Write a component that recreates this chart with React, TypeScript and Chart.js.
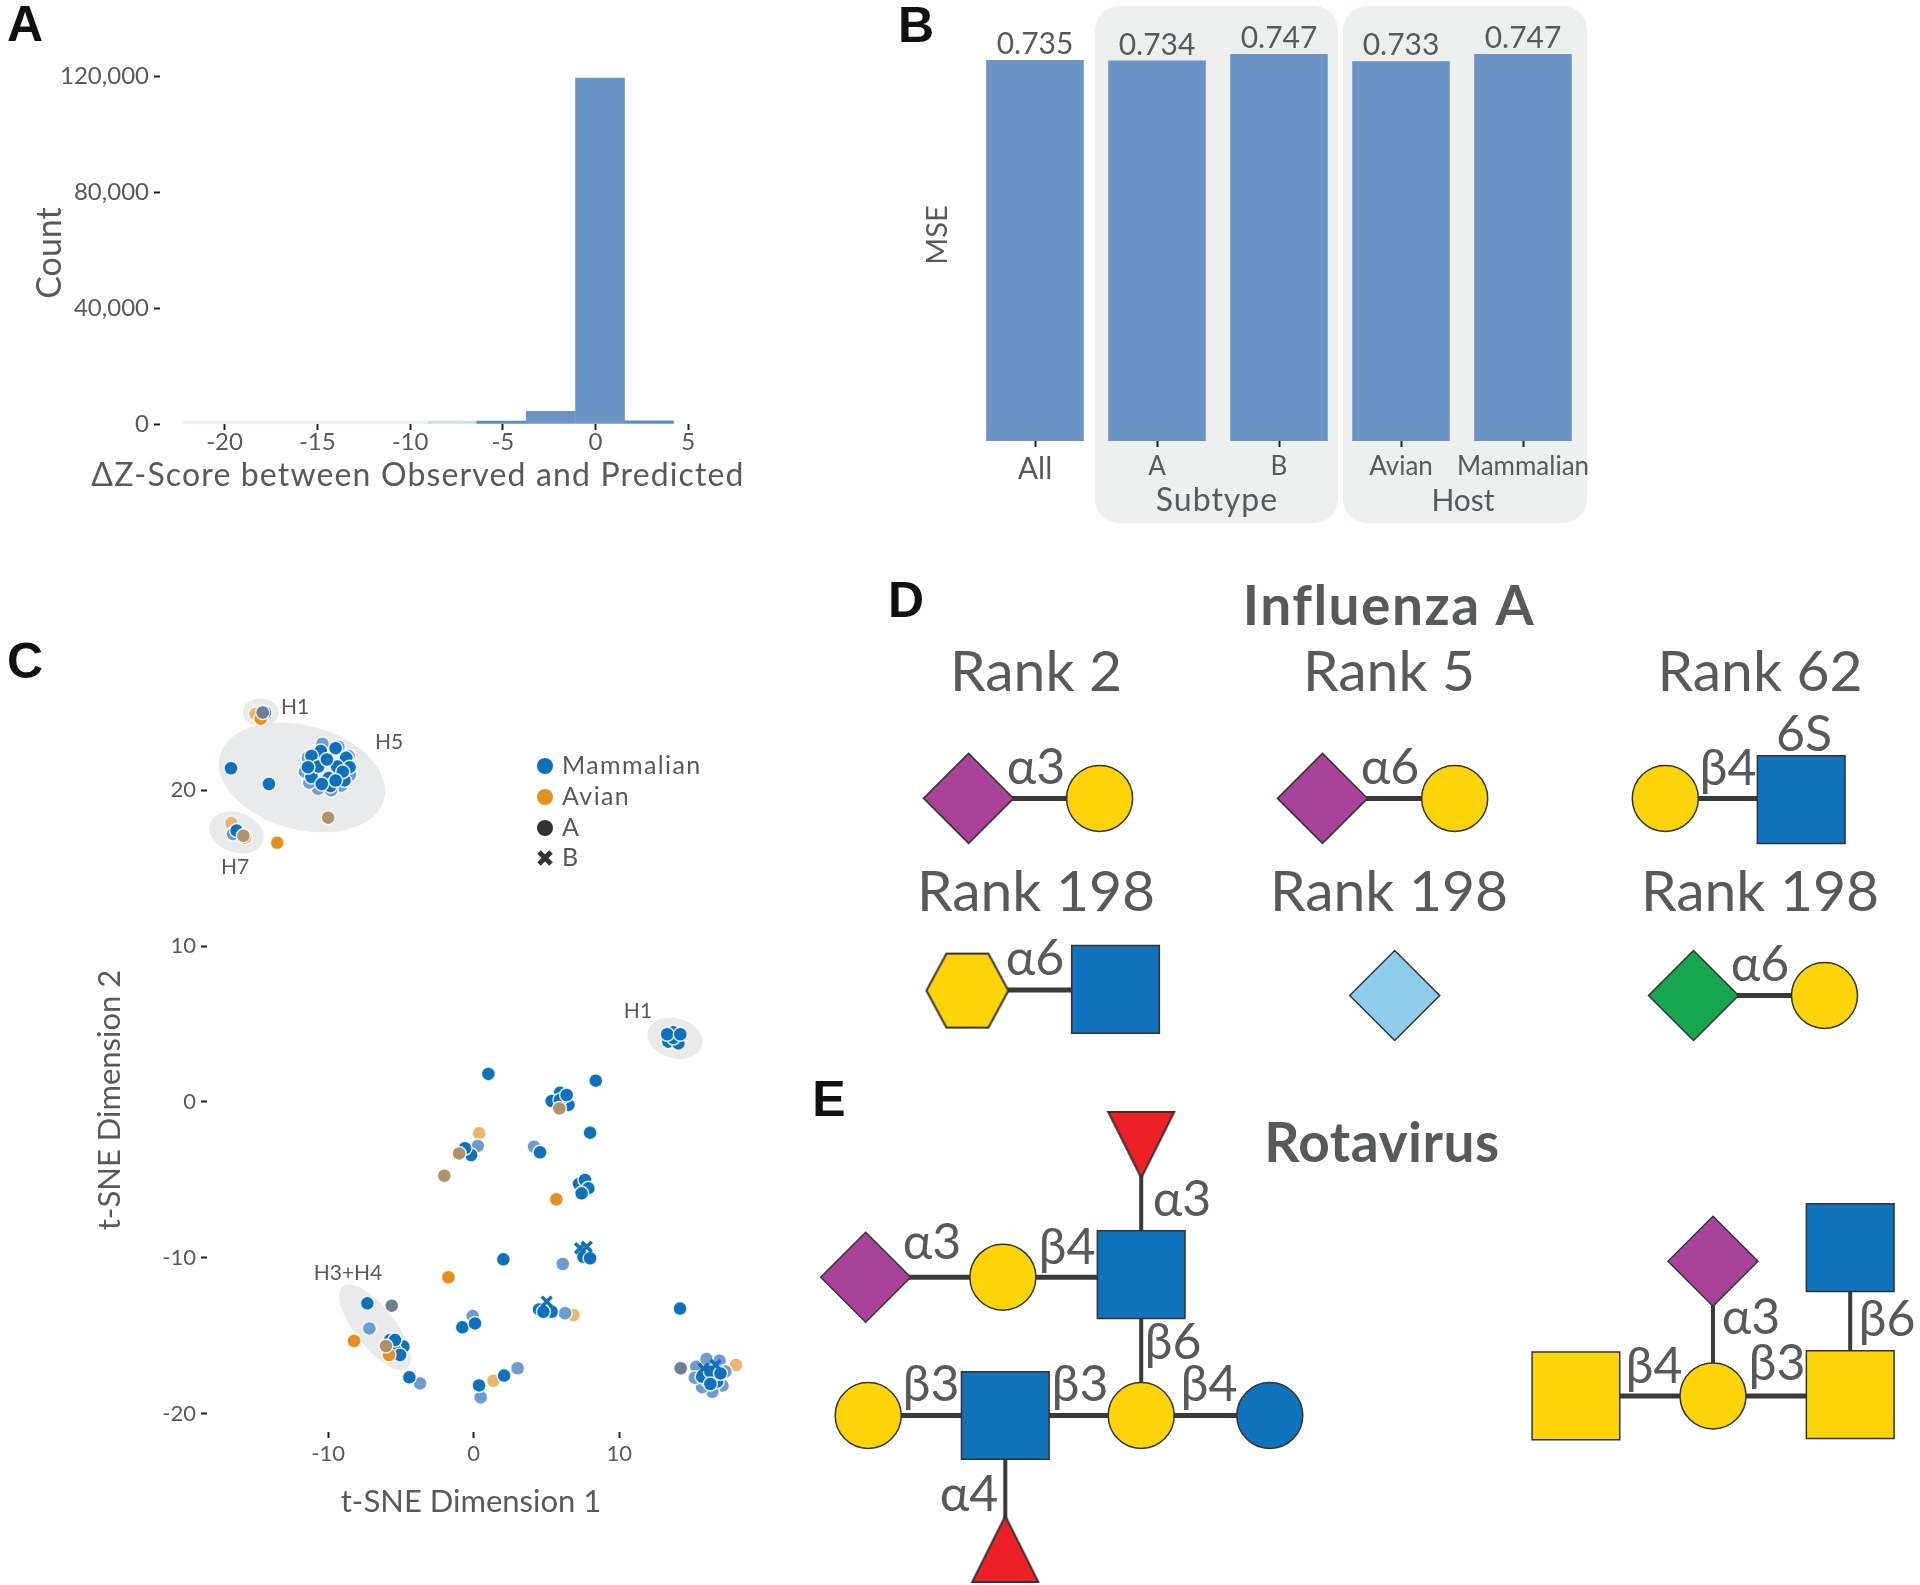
import React, { useEffect, useRef } from "react";
import { Chart, registerables } from "chart.js";

Chart.register(...registerables);

// ---------- Panel A ----------
const histBinCentres = [-20.91, -18.27, -15.63, -12.99, -10.35, -7.71, -5.07, -2.42, 0.24, 2.88];
const histCounts = [150, 150, 150, 150, 150, 400, 1000, 4400, 119300, 1100];
const histColours = ["#e6eef8", "#e6eef8", "#e6eef8", "#e6eef8", "#e6eef8", "#cddcf0", "#5f8cc6", "#6b93c6", "#6b93c6", "#5f8cc6"];

// ---------- Panel B ----------
const mseCategories = ["All", "A", "B", "Avian", "Mammalian"];
const mseValues = [0.735, 0.734, 0.747, 0.733, 0.747];

// ---------- Panel C (t-SNE dimension 1, dimension 2) ----------
type P = [number, number];
const mammalian: P[] = [
  [1.01, 1.8], [8.39, 1.37], [5.93, 0.6], [5.36, 0.06], [6.51, -0.19], [5.93, 0.13], [6.39, 0.45], [8.0, -1.97],
  [-0.18, -3.4], [-0.6, -2.97], [4.56, -3.23], [7.24, -5.26], [7.65, -5.0], [7.88, -5.54], [7.42, -5.86],
  [2.04, -10.1], [7.54, -9.93], [8.0, -10.03],
  [-7.31, -12.92], [-5.25, -15.38], [-5.75, -15.28], [-4.83, -15.7], [-5.41, -15.92], [-5.06, -16.24], [-5.41, -15.28],
  [-4.42, -17.67], [-0.78, -14.46], [0.09, -14.21], [2.09, -17.56], [0.37, -18.19],
  [4.49, -13.31], [5.36, -13.46], [4.79, -13.46], [14.18, -13.26],
  [16.04, -17.84], [16.73, -17.95], [15.7, -17.63], [16.27, -17.31], [16.96, -17.42], [16.27, -18.1],
  [13.72, 4.47], [13.38, 3.87], [14.07, 3.76], [13.72, 4.1], [13.3, 4.35], [14.2, 4.35],
  [-16.68, 21.42], [-14.07, 20.41],
  [-10.51, 22.53], [-9.49, 22.71], [-8.76, 22.09], [-8.53, 21.49], [-11.15, 22.21], [-11.15, 20.86], [-9.97, 20.79],
  [-8.88, 20.64], [-9.85, 20.28], [-9.38, 21.53], [-10.68, 21.53], [-11.39, 21.49], [-10.09, 21.98], [-9.0, 21.2],
  [-9.49, 20.63], [-10.44, 20.41],
  [-16.3, 17.42], [-14.35, 25.0],
];
const mammalianLight: P[] = [
  [0.28, -2.82], [4.15, -2.87], [6.12, -10.4], [-3.69, -18.06], [-7.17, -14.53], [-0.07, -13.74],
  [3.02, -17.09], [0.48, -18.96], [6.28, -13.56], [-16.54, 17.2],
  [-11.4, 22.1], [-10.4, 23.0], [-9.3, 22.8], [-8.6, 22.2], [-8.5, 21.0], [-9.1, 20.3], [-9.8, 20.0], [-10.7, 20.1],
  [-11.3, 20.5], [-11.6, 21.2],
  [15.3, -17.0], [16.0, -16.5], [16.9, -16.6], [17.3, -17.3], [17.1, -18.2], [16.4, -18.6], [15.7, -18.3], [15.2, -17.7],
];
const mammalianB: P[] = [
  [7.77, -9.29], [7.31, -9.39], [5.02, -12.81], [15.8, -17.1], [16.62, -16.88],
];
const avian: P[] = [
  [5.68, -6.25], [-1.74, -11.25], [-8.22, -15.34], [-5.82, -16.24], [-13.5, 16.64], [-15.71, 16.98], [-14.64, 24.6],
];
const avianLight: P[] = [
  [0.37, -2.01], [1.35, -17.89], [6.85, -13.67], [18.03, -16.88], [-16.66, 17.9], [-15.0, 24.9],
];
const mixedBrown: P[] = [
  [5.89, -0.41], [-1.0, -3.3], [-2.02, -4.73], [-6.03, -15.66], [-10.0, 18.25], [-15.83, 17.09],
];
const mixedSlate: P[] = [
  [-5.63, -13.07], [14.23, -17.09], [-14.5, 25.0],
];
// centre x, centre y, semi-axes in px, rotation in degrees
const clusterEllipses: [number, number, number, number, number][] = [
  [-11.8, 20.83, 85, 52, 15],
  [-14.64, 25.0, 18, 14, 0],
  [-16.3, 17.3, 28, 20, 20],
  [13.83, 4.09, 28, 20, 15],
  [-6.78, -14.46, 52, 20, 52],
];
const clusterNames: [string, number, number][] = [
  ["H1", -12.28, 25.35], ["H5", -5.82, 23.1], ["H7", -16.4, 15.08], ["H1", 11.29, 5.84], ["H3+H4", -8.64, -11.02],
];
const legendNames = ["Mammalian", "Avian", "A", "B"];

// ---------- Panels D and E (glycan diagrams) ----------
const sialicDiamonds: P[] = [[968.6, 798.4], [1322.5, 798.4], [865.7, 1277.2], [1713, 1261.2]];
const yellowCircles: P[] = [[1099.6, 798.4], [1454.7, 798.4], [1665.3, 798.4], [1824.5, 995.5], [1002.9, 1277.2], [1141.2, 1415.5], [868.2, 1415.5], [1713, 1395.9]];
const blueCircles: P[] = [[1269.8, 1415.5]];
const blueSquares: P[] = [[1801.2, 799.6], [1115.5, 989.4], [1141.2, 1274.7], [1005.3, 1415.5], [1850.2, 1247.7]];
const yellowSquares: P[] = [[1575.9, 1395.9], [1850.2, 1394.7]];
const yellowHexagons: P[] = [[967.4, 990.6]];
const lightDiamonds: P[] = [[1394.7, 995.5]];
const greenDiamonds: P[] = [[1693.5, 995.5]];
const fucoseDown: P[] = [[1141.2, 1144.9]];
const fucoseUp: P[] = [[1005.3, 1549]];
const glycanLinks: [P, P][] = [
  [[968.6, 798.4], [1099.6, 798.4]],
  [[1322.5, 798.4], [1454.7, 798.4]],
  [[1665.3, 798.4], [1801.2, 798.4]],
  [[967.4, 990], [1115.5, 990]],
  [[1693.5, 995.5], [1824.5, 995.5]],
  [[865.7, 1277.2], [1141.2, 1277.2]],
  [[868.2, 1415.5], [1269.8, 1415.5]],
  [[1575.9, 1395.9], [1850.2, 1395.9]],
];
const glycanLinksVertical: [P, P][] = [
  [[1141.2, 1144.9], [1141.2, 1415.5]],
  [[1005.3, 1415.5], [1005.3, 1549]],
  [[1713, 1261.2], [1713, 1395.9]],
  [[1850.2, 1247.7], [1850.2, 1394.7]],
];
const glycanTitles: [string, number, number][] = [
  ["Rank 2", 1036, 673], ["Rank 5", 1389, 673], ["Rank 62", 1760, 673],
  ["Rank 198", 1036, 893], ["Rank 198", 1389, 893], ["Rank 198", 1760, 893],
];
const linkLabels: [string, number, number][] = [
  ["α3", 1036, 768], ["α6", 1390, 768], ["β4", 1728, 769], ["6S", 1804, 735], ["α6", 1035, 959], ["α6", 1760, 965],
  ["α3", 1182, 1200], ["α3", 932, 1243], ["β4", 1067, 1248], ["β6", 1173, 1343], ["β3", 931, 1385], ["β3", 1080, 1385],
  ["β4", 1209, 1385], ["α4", 969, 1495], ["α3", 1751, 1318], ["β6", 1887, 1320], ["β4", 1654, 1367], ["β3", 1777, 1364],
];

// ---------- Shared styling ----------
const FONT = "Lato, 'Open Sans', sans-serif";
const TEXT = "#58595b";
const TICK = "#222222";
const OUTLINE = "#333333";

type Caption = { t: string; x: number; y: number; font: string; color?: string; rotate?: boolean; ls?: number };

const captionPlugin = (left: number, top: number, captions: Caption[]) => ({
  id: "captions",
  afterDraw(chart: any) {
    const c = chart.ctx;
    for (const k of captions) {
      c.save();
      c.translate(k.x - left, k.y - top);
      if (k.rotate) c.rotate(-Math.PI / 2);
      c.font = k.font;
      (c as any).letterSpacing = `${k.ls || 0}px`;
      c.fillStyle = k.color || TEXT;
      c.textAlign = "center";
      c.textBaseline = "middle";
      c.fillText(k.t, 0, 0);
      c.restore();
    }
  },
});

const LETTER = "bold 50px 'Liberation Sans', Arial, sans-serif";

const axisBase = (tickSize: number, padding: number) => ({
  border: { display: false },
  grid: { display: true, offset: false, drawOnChartArea: false, drawTicks: true, tickLength: 6, tickWidth: 2, tickColor: TICK },
  ticks: { color: TEXT, font: { family: FONT, size: tickSize }, padding, maxRotation: 0, autoSkip: false, includeBounds: false },
});

const base = (W: number, H: number, pl: number, pt: number, pr: number, pb: number) => ({
  animation: false,
  responsive: false,
  maintainAspectRatio: false,
  events: [],
  layout: { autoPadding: false, padding: { left: 0, top: pt, right: W - pr, bottom: 0 } },
  plugins: { legend: { display: false }, tooltip: { enabled: false }, title: { display: false } },
  _fit: { yW: pl, xH: H - pb },
});

const pts = (a: P[]) => a.map(([x, y]) => ({ x, y }));

function shape(size: number, draw: (c: CanvasRenderingContext2D) => void) {
  const cv = document.createElement("canvas");
  cv.width = size;
  cv.height = size;
  const c = cv.getContext("2d")!;
  c.lineWidth = 2;
  c.strokeStyle = OUTLINE;
  draw(c);
  return cv;
}

function polygon(c: CanvasRenderingContext2D, fill: string, v: number[][]) {
  c.beginPath();
  v.forEach(([x, y], i) => (i ? c.lineTo(x, y) : c.moveTo(x, y)));
  c.closePath();
  c.fillStyle = fill;
  c.fill();
  c.stroke();
}

export default function App() {
  const refA = useRef<HTMLCanvasElement>(null);
  const refB = useRef<HTMLCanvasElement>(null);
  const refC = useRef<HTMLCanvasElement>(null);
  const refG = useRef<HTMLCanvasElement>(null);

  useEffect(() => {
    // Panel A
    const A: any = base(800, 530, 160, 76, 700, 424);
    const a = new Chart(refA.current!, {
      type: "bar",
      data: {
        datasets: [
          {
            data: histBinCentres.map((x, i) => ({ x, y: histCounts[i] })),
            backgroundColor: histColours,
            barPercentage: 1,
            categoryPercentage: 1,
            minBarLength: 3,
          },
        ],
      },
      options: {
        ...A,
        scales: {
          x: {
            ...axisBase(24, -2),
            type: "linear",
            offset: false,
            min: -23.48,
            max: 5.63,
            afterFit: (s: any) => { s.height = A._fit.xH; },
            ticks: { ...axisBase(24, -2).ticks, stepSize: 5 },
          },
          y: {
            ...axisBase(24, 5),
            min: 0,
            max: 120000,
            afterFit: (s: any) => { s.width = A._fit.yW; },
            ticks: { ...axisBase(24, 5).ticks, stepSize: 40000, callback: (v: any) => Number(v).toLocaleString("en-US") },
          },
        },
      },
      plugins: [
        captionPlugin(0, 0, [
          { t: "A", x: 25, y: 27, font: LETTER, color: "#111" },
          { t: "Count", x: 50, y: 253, font: `34px ${FONT}`, rotate: true },
          { t: "ΔZ-Score between Observed and Predicted", x: 418, y: 476, font: `32px ${FONT}`, ls: 1.15 },
        ]),
      ],
    } as any);

    // Panel B
    const B: any = base(720, 540, 74, 29, 684, 441);
    const b = new Chart(refB.current!, {
      type: "bar",
      data: {
        labels: mseCategories,
        datasets: [{ data: mseValues, backgroundColor: "#6b93c6", barPercentage: 0.8, categoryPercentage: 1 }],
      },
      options: {
        ...B,
        scales: {
          x: {
            ...axisBase(26, 4),
            afterFit: (s: any) => { s.height = B._fit.xH; },
            ticks: {
              ...axisBase(26, 4).ticks,
              font: (c: any) => ({ family: FONT, size: c.index === 0 ? 30 : 26 }),
            },
          },
          y: {
            min: 0,
            max: 0.795,
            border: { display: false },
            grid: { display: false },
            ticks: { display: false },
            afterFit: (s: any) => { s.width = B._fit.yW; },
          },
        },
      },
      plugins: [
        {
          id: "groupPanels",
          beforeDraw(chart: any) {
            const c = chart.ctx;
            c.save();
            c.fillStyle = "#edefef";
            c.beginPath();
            c.roundRect(1095 - 900, 6, 243, 517, 24);
            c.roundRect(1343 - 900, 6, 244, 517, 24);
            c.fill();
            c.restore();
          },
        },
        {
          id: "valueLabels",
          afterDatasetsDraw(chart: any) {
            const c = chart.ctx;
            const meta = chart.getDatasetMeta(0);
            c.save();
            c.font = `30px ${FONT}`;
            c.fillStyle = TEXT;
            c.textAlign = "center";
            c.textBaseline = "alphabetic";
            meta.data.forEach((el: any, i: number) => {
              c.fillText(mseValues[i].toFixed(3), el.x, el.y - 6);
            });
            c.restore();
          },
        },
        captionPlugin(900, 0, [
          { t: "B", x: 916, y: 28, font: LETTER, color: "#111" },
          { t: "MSE", x: 938, y: 235, font: `29px ${FONT}`, rotate: true },
          { t: "Subtype", x: 1217, y: 501, font: `32px ${FONT}`, ls: 1 },
          { t: "Host", x: 1463, y: 501, font: `30px ${FONT}` },
        ]),
      ] as any,
    } as any);

    // Panel C
    const C: any = base(800, 920, 207, 80, 735, 812);
    const dot = (data: P[], color: string, order: number) => ({
      data: pts(data),
      pointRadius: 7,
      pointBackgroundColor: color,
      pointBorderColor: "rgba(255,255,255,0.85)",
      pointBorderWidth: 1.5,
      clip: false,
      order,
    });
    const c = new Chart(refC.current!, {
      type: "scatter",
      data: {
        datasets: [
          { ...dot(mammalianB, "#0f71bc", 1), pointStyle: "crossRot", pointRadius: 7, pointBorderColor: "#0f71bc", pointBorderWidth: 3.5 },
          dot(mixedSlate, "#6f7d95", 2),
          dot(mixedBrown, "#b0916c", 3),
          dot(avian, "#e58f22", 4),
          dot(mammalian, "#0f71bc", 5),
          dot(mammalianLight, "#6f9bd0", 6),
          dot(avianLight, "#ecb56f", 7),
        ],
      },
      options: {
        ...C,
        scales: {
          x: {
            ...axisBase(22, 3),
            type: "linear",
            min: -18.33,
            max: 17.96,
            afterFit: (s: any) => { s.height = C._fit.xH; },
            ticks: { ...axisBase(22, 3).ticks, stepSize: 10 },
          },
          y: {
            ...axisBase(22, 5),
            type: "linear",
            min: -21.18,
            max: 25.8,
            afterFit: (s: any) => { s.width = C._fit.yW; },
            ticks: { ...axisBase(22, 5).ticks, stepSize: 10 },
          },
        },
      },
      plugins: [
        {
          id: "clusters",
          beforeDatasetsDraw(chart: any) {
            const g = chart.ctx;
            const { x, y } = chart.scales;
            g.save();
            g.fillStyle = "#e8e9ea";
            for (const [cx, cy, rx, ry, rot] of clusterEllipses) {
              g.beginPath();
              g.ellipse(x.getPixelForValue(cx), y.getPixelForValue(cy), rx, ry, (rot * Math.PI) / 180, 0, Math.PI * 2);
              g.fill();
            }
            g.restore();
          },
          afterDatasetsDraw(chart: any) {
            const g = chart.ctx;
            const { x, y } = chart.scales;
            g.save();
            g.font = `21px ${FONT}`;
            g.fillStyle = TEXT;
            g.textAlign = "center";
            g.textBaseline = "middle";
            for (const [t, cx, cy] of clusterNames) g.fillText(t, x.getPixelForValue(cx), y.getPixelForValue(cy));
            // legend
            const rows = [766 - 620, 797 - 620, 828 - 620, 858 - 620];
            const colours = ["#0f71bc", "#e58f22", "#333333", "#333333"];
            legendNames.forEach((name, i) => {
              g.fillStyle = colours[i];
              if (i < 3) {
                g.beginPath();
                g.arc(545, rows[i], 8, 0, Math.PI * 2);
                g.fill();
              } else {
                g.strokeStyle = colours[i];
                g.lineWidth = 5;
                g.beginPath();
                g.moveTo(539, rows[i] - 6);
                g.lineTo(551, rows[i] + 6);
                g.moveTo(551, rows[i] - 6);
                g.lineTo(539, rows[i] + 6);
                g.stroke();
              }
              g.fillStyle = TEXT;
              g.font = `25px ${FONT}`;
              (g as any).letterSpacing = "1.4px";
              g.textAlign = "left";
              g.fillText(name, 562, rows[i]);
              (g as any).letterSpacing = "0px";
            });
            g.restore();
          },
        },
        captionPlugin(0, 620, [
          { t: "C", x: 25, y: 664, font: LETTER, color: "#111" },
          { t: "t-SNE Dimension 2", x: 110, y: 1100, font: `31px ${FONT}`, rotate: true },
          { t: "t-SNE Dimension 1", x: 471, y: 1502, font: `31px ${FONT}` },
        ]),
      ] as any,
    } as any);

    // Panels D, E
    const hexagon = shape(86, (g) =>
      polygon(g, "#fdd40a", [[2, 43], [22, 6], [64, 6], [84, 43], [64, 80], [22, 80]])
    );
    const triDown = shape(70, (g) => polygon(g, "#ee2027", [[2, 2], [68, 2], [35, 68]]));
    const triUp = shape(70, (g) => polygon(g, "#ee2027", [[2, 68], [68, 68], [35, 2]]));
    const node = (data: P[], style: any, radius: number, fill: string) => ({
      data: pts(data),
      pointStyle: style,
      pointRadius: radius,
      pointBackgroundColor: fill,
      pointBorderColor: OUTLINE,
      pointBorderWidth: 1.5,
      showLine: false,
      clip: false,
      order: 1,
    });
    const link = (pair: [P, P], width: number) => ({
      data: pts(pair),
      showLine: true,
      borderColor: "#3a3a3a",
      borderWidth: width,
      pointRadius: 0,
      clip: false,
      order: 2,
    });
    const g = new Chart(refG.current!, {
      type: "scatter",
      data: {
        datasets: [
          node(sialicDiamonds, "rectRot", 45, "#a84399"),
          node(yellowCircles, "circle", 33, "#fdd40a"),
          node(blueCircles, "circle", 33, "#0f72ba"),
          node(blueSquares, "rect", 62, "#0f72ba"),
          node(yellowSquares, "rect", 62, "#fdd40a"),
          node(yellowHexagons, hexagon, 43, "#fdd40a"),
          node(lightDiamonds, "rectRot", 45, "#8fcbeb"),
          node(greenDiamonds, "rectRot", 45, "#16a851"),
          node(fucoseDown, triDown, 35, "#ee2027"),
          node(fucoseUp, triUp, 35, "#ee2027"),
          ...glycanLinks.map((l) => link(l, 5)),
          ...glycanLinksVertical.map((l) => link(l, 4)),
        ],
      },
      options: {
        animation: false,
        responsive: false,
        maintainAspectRatio: false,
        events: [],
        layout: { autoPadding: false, padding: 0 },
        plugins: { legend: { display: false }, tooltip: { enabled: false } },
        scales: {
          x: { type: "linear", display: false, min: 800, max: 1920 },
          y: { type: "linear", display: false, min: 560, max: 1585, reverse: true },
        },
      },
      plugins: [
        captionPlugin(800, 560, [
          { t: "D", x: 906, y: 603, font: LETTER, color: "#111" },
          { t: "E", x: 829, y: 1102, font: LETTER, color: "#111" },
          { t: "Influenza A", x: 1389, y: 607, font: `bold 55px ${FONT}`, ls: 1.5 },
          { t: "Rotavirus", x: 1382, y: 1144, font: `bold 55px ${FONT}`, ls: 0.5 },
          ...glycanTitles.map(([t, x, y]) => ({ t, x, y, font: `57px ${FONT}` })),
          ...linkLabels.map(([t, x, y]) => ({ t, x, y, font: `50px ${FONT}` })),
        ]),
      ] as any,
    } as any);

    return () => {
      a.destroy();
      b.destroy();
      c.destroy();
      g.destroy();
    };
  }, []);

  const abs = (left: number, top: number): React.CSSProperties => ({ position: "absolute", left, top, display: "block" });

  return (
    <div style={{ position: "absolute", left: 0, top: 0, width: 1920, height: 1585, background: "#fff", overflow: "hidden" }}>
      <canvas ref={refA} width={800} height={530} style={abs(0, 0)} />
      <canvas ref={refB} width={720} height={540} style={abs(900, 0)} />
      <canvas ref={refC} width={800} height={920} style={abs(0, 620)} />
      <canvas ref={refG} width={1120} height={1025} style={abs(800, 560)} />
    </div>
  );
}
